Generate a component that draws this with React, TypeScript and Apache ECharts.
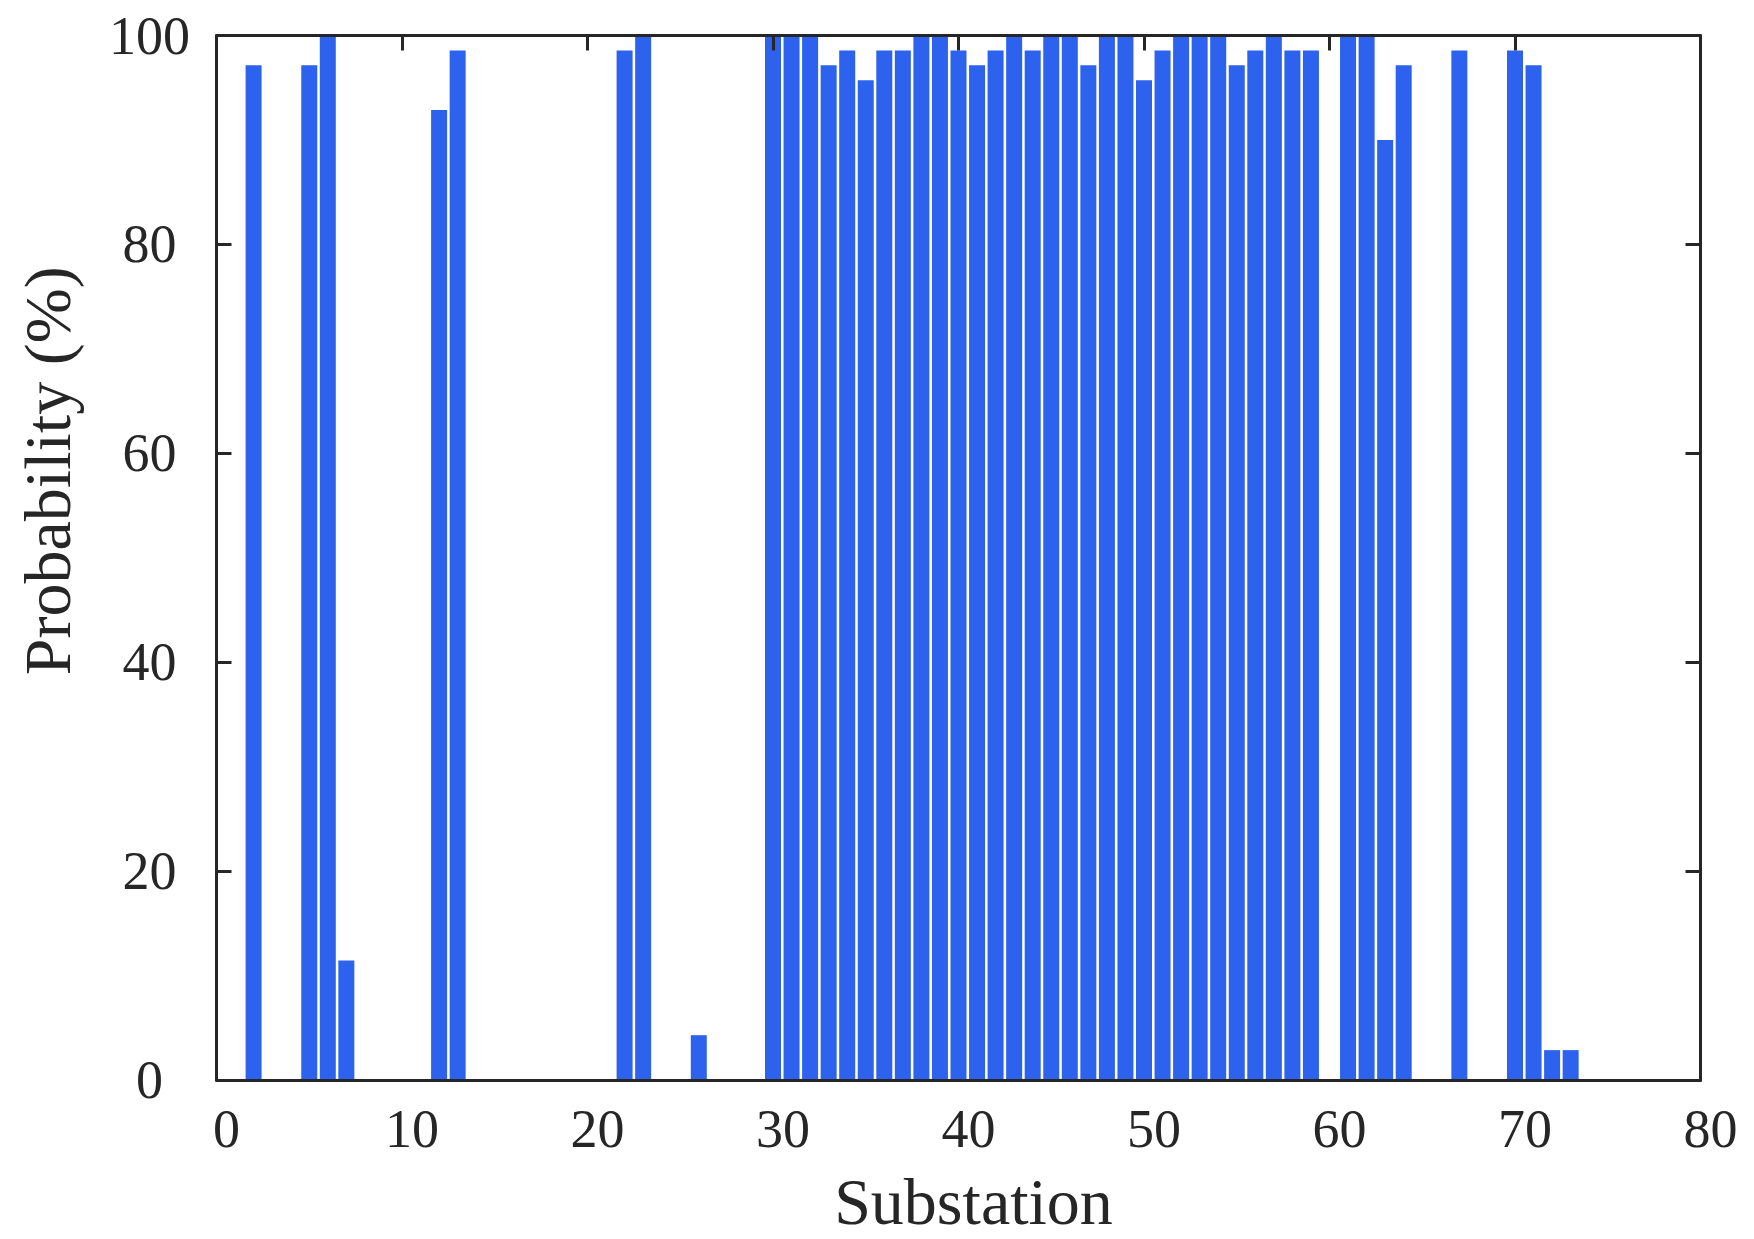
import React, { useEffect, useRef } from "react";
import * as echarts from "echarts";

const substations = [2, 5, 6, 7, 12, 13, 22, 23, 26, 30, 31, 32, 33, 34, 35, 36, 37, 38, 39, 40, 41, 42, 43, 44, 45, 46, 47, 48, 49, 50, 51, 52, 53, 54, 55, 56, 57, 58, 59, 61, 62, 63, 64, 67, 70, 71, 72, 73];
const probabilities = [97.14, 97.14, 100, 11.43, 92.86, 98.57, 98.57, 100, 4.29, 100, 100, 100, 97.14, 98.57, 95.71, 98.57, 98.57, 100, 100, 98.57, 97.14, 98.57, 100, 98.57, 100, 100, 97.14, 100, 100, 95.71, 98.57, 100, 100, 100, 97.14, 98.57, 100, 98.57, 98.57, 100, 100, 90.0, 97.14, 98.57, 98.57, 97.14, 2.86, 2.86];

const xTicks = [0, 10, 20, 30, 40, 50, 60, 70, 80];
const yTicks = [0, 20, 40, 60, 80, 100];

const xTitle = "Substation";
const yTitle = "Probability (%)";

const FONT = "'Liberation Serif', 'Times New Roman', serif";
const INK = "#262626";
const BAR = "#2C62EE";

export default function App() {
  const ref = useRef<HTMLDivElement>(null);
  useEffect(() => {
    if (!ref.current) return;
    const chart = echarts.init(ref.current, null, { renderer: "svg" });
    const xMin = xTicks[0];
    const xMax = xTicks[xTicks.length - 1];
    const xInt = xTicks[1] - xTicks[0];
    const yMin = yTicks[0];
    const yMax = yTicks[yTicks.length - 1];
    const yInt = yTicks[1] - yTicks[0];
    const line = { show: true, onZero: false, lineStyle: { color: INK, width: 3 } };
    const tickIn = { show: true, inside: true, length: 15, lineStyle: { color: INK, width: 3 } };
    chart.setOption({
      animation: false,
      backgroundColor: "#ffffff",
      grid: { left: 216.5, right: 53.5, top: 35.5, bottom: 146, show: false },
      xAxis: [
        {
          type: "value",
          position: "bottom",
          min: xMin,
          max: xMax,
          interval: xInt,
          axisLine: line,
          axisTick: { show: false },
          splitLine: { show: false },
          axisLabel: {
            color: INK,
            fontFamily: FONT,
            fontSize: 54,
            margin: 22,
            padding: [0, 0, 0, 20],
          },
          name: xTitle,
          nameLocation: "middle",
          nameGap: 88,
          nameTextStyle: { color: INK, fontFamily: FONT, fontSize: 66, padding: [0, 0, 0, 30] },
          z: 3,
        },
        {
          type: "value",
          position: "top",
          min: xMin,
          max: xMax,
          interval: xInt,
          axisLine: line,
          axisTick: tickIn,
          axisLabel: { show: false },
          splitLine: { show: false },
          z: 3,
        },
      ],
      yAxis: [
        {
          type: "value",
          position: "left",
          min: yMin,
          max: yMax,
          interval: yInt,
          axisLine: line,
          axisTick: tickIn,
          splitLine: { show: false },
          axisLabel: {
            color: INK,
            fontFamily: FONT,
            fontSize: 54,
            margin: 67,
            align: "center",
          },
          name: yTitle,
          nameLocation: "middle",
          nameRotate: 90,
          nameGap: 136,
          nameTextStyle: { color: INK, fontFamily: FONT, fontSize: 66, padding: [0, 0, 0, 174] },
          z: 3,
        },
        {
          type: "value",
          position: "right",
          min: yMin,
          max: yMax,
          interval: yInt,
          axisLine: line,
          axisTick: tickIn,
          axisLabel: { show: false },
          splitLine: { show: false },
          z: 3,
        },
      ],
      series: [
        {
          type: "bar",
          xAxisIndex: 0,
          yAxisIndex: 0,
          barWidth: 16,
          itemStyle: { color: BAR },
          data: substations.map((s, i) => [s, probabilities[i]]),
          z: 1,
        },
      ],
    });
    return () => chart.dispose();
  }, []);
  return (
    <div
      ref={ref}
      style={{ position: "absolute", left: 0, top: 0, width: 1754, height: 1239 }}
    />
  );
}
